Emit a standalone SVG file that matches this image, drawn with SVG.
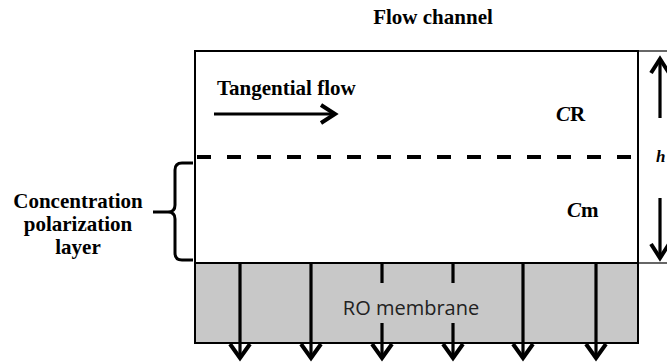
<svg xmlns="http://www.w3.org/2000/svg" width="667" height="362" viewBox="0 0 667 362">
<defs>
<style>
.serif{font-family:"Liberation Serif","Times New Roman",serif;font-weight:bold;fill:#000}
.ln{stroke:#000;fill:none}
.arr{stroke:#000;stroke-width:3.2;fill:none}
.head{stroke:#000;stroke-width:4;fill:none;stroke-linejoin:miter}
</style>
</defs>
<rect width="667" height="362" fill="#fff"/>
<g id="title"><text class="serif" x="433" y="24" font-size="21" text-anchor="middle">Flow channel</text></g>
<g id="channel">
<rect x="195" y="51" width="443" height="212" fill="#fff" stroke="#000" stroke-width="2"/>
<line class="ln" x1="638" y1="51" x2="667" y2="51" stroke-width="1.2"/>
<line class="ln" x1="638" y1="263" x2="667" y2="263" stroke-width="1.2"/>
</g>
<g id="membrane">
<rect x="195" y="263" width="443" height="80" fill="#c8c8c8" stroke="#000" stroke-width="2"/>
<text x="411" y="315" font-family="'Open Sans','Liberation Sans',sans-serif" font-size="20" fill="#222" text-anchor="middle">RO membrane</text>
</g>
<g id="boundary">
<line class="ln" x1="197" y1="157" x2="637" y2="157" stroke-width="4" stroke-dasharray="14,16"/>
</g>
<g id="tangential">
<text class="serif" x="217" y="95" font-size="21">Tangential flow</text>
<line class="arr" x1="214" y1="114" x2="334" y2="114" stroke-width="4"/>
<polyline class="head" points="321,105 335,114 321,123"/>
</g>
<g id="cr"><text class="serif" x="556" y="121" font-size="21"><tspan font-style="italic">C</tspan>R</text></g>
<g id="cm"><text class="serif" x="567" y="217" font-size="21"><tspan font-style="italic">C</tspan>m</text></g>
<g id="cp-layer">
<path class="ln" stroke-width="3" d="M193,163 H182 Q175,163 175,170 V205 Q175,212 168,212 H153 M168,212 Q175,212 175,219 V253 Q175,260 182,260 H193"/>
<text class="serif" font-size="21" text-anchor="middle"><tspan x="78" y="208">Concentration</tspan><tspan x="78" y="231">polarization</tspan><tspan x="78" y="254">layer</tspan></text>
</g>
<g id="height">
<line class="arr" x1="660" y1="60" x2="660" y2="118" stroke-width="3.5"/>
<polyline class="head" points="651,73 660,59 669,73"/>
<line class="arr" x1="660" y1="198" x2="660" y2="258" stroke-width="3.5"/>
<polyline class="head" points="651,244 660,258 669,244"/>
<text x="656" y="162" font-family="'Liberation Serif',serif" font-style="italic" font-weight="bold" font-size="17" fill="#000">h</text>
</g>
<g id="connectors">
<line class="arr" x1="240" y1="264" x2="240" y2="357"/>
<polyline class="head" points="230,344 240,358 250,344"/>
<line class="arr" x1="311" y1="264" x2="311" y2="357"/>
<polyline class="head" points="301,344 311,358 321,344"/>
<line class="arr" x1="382" y1="264" x2="382" y2="283"/>
<line class="arr" x1="382" y1="323" x2="382" y2="357"/>
<polyline class="head" points="372,344 382,358 392,344"/>
<line class="arr" x1="453" y1="264" x2="453" y2="283"/>
<line class="arr" x1="453" y1="323" x2="453" y2="357"/>
<polyline class="head" points="443,344 453,358 463,344"/>
<line class="arr" x1="523" y1="264" x2="523" y2="357"/>
<polyline class="head" points="513,344 523,358 533,344"/>
<line class="arr" x1="596" y1="264" x2="596" y2="357"/>
<polyline class="head" points="586,344 596,358 606,344"/>
</g>
</svg>
